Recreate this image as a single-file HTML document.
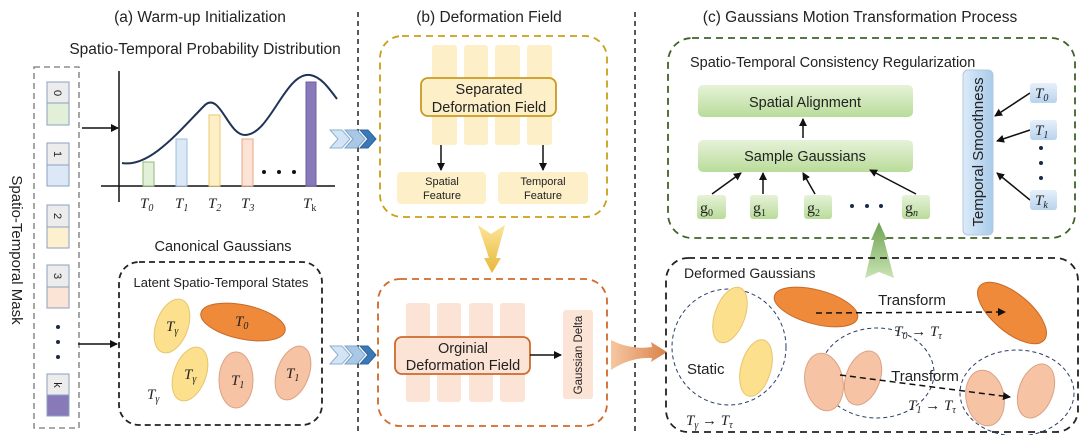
<!DOCTYPE html>
<html><head><meta charset="utf-8"><style>
html,body{margin:0;padding:0;background:#fff;}
svg{display:block;}
text{font-family:"Liberation Sans",sans-serif;fill:#222;}
.m{font-family:"Liberation Serif",serif;font-style:italic;}
</style></head><body>
<svg width="1080" height="435" viewBox="0 0 1080 435" xmlns="http://www.w3.org/2000/svg">
<defs>
<marker id="ah" markerWidth="8" markerHeight="8" refX="7" refY="4" orient="auto" markerUnits="userSpaceOnUse"><path d="M0,0 L8,4 L0,8 z" fill="#111"/></marker>
<linearGradient id="gg" x1="0" y1="0" x2="0" y2="1"><stop offset="0" stop-color="#e6f2d8"/><stop offset="1" stop-color="#b9dc9a"/></linearGradient>
<linearGradient id="bg" x1="0" y1="0" x2="1" y2="0"><stop offset="0" stop-color="#dcebf8"/><stop offset="1" stop-color="#a9cbea"/></linearGradient>
<linearGradient id="tb" x1="0" y1="0" x2="0" y2="1"><stop offset="0" stop-color="#e6f0fa"/><stop offset="1" stop-color="#b8d3ee"/></linearGradient>
<linearGradient id="ya" x1="0" y1="0" x2="0" y2="1"><stop offset="0" stop-color="#fbe49a"/><stop offset="1" stop-color="#e8b838"/></linearGradient>
<linearGradient id="ga" x1="0" y1="0" x2="0" y2="1"><stop offset="0" stop-color="#6ea150"/><stop offset="1" stop-color="#c9e4b4"/></linearGradient>
<linearGradient id="oa" x1="0" y1="0" x2="1" y2="0"><stop offset="0" stop-color="#f6c7a2"/><stop offset="1" stop-color="#d9834a"/></linearGradient>
</defs>

<line x1="358" y1="12" x2="358" y2="432" stroke="#222" stroke-width="1.5" stroke-dasharray="5,4"/>
<line x1="635" y1="12" x2="635" y2="432" stroke="#222" stroke-width="1.5" stroke-dasharray="5,4"/>

<!-- (a) -->
<text x="200" y="22" font-size="15.5" text-anchor="middle">(a) Warm-up Initialization</text>
<text x="205" y="54" font-size="15.5" text-anchor="middle">Spatio-Temporal  Probability Distribution</text>
<rect x="34" y="67" width="45" height="361" fill="none" stroke="#777" stroke-width="1.3" stroke-dasharray="6,4"/>
<text transform="translate(12,250) rotate(90)" font-size="15" text-anchor="middle">Spatio-Temporal Mask</text>
<g stroke="#8aa0c0" stroke-width="1">
<rect x="47" y="82" width="22" height="21" fill="#ececec"/><rect x="47" y="103" width="22" height="22" fill="#e2efd9"/>
<rect x="47" y="143" width="22" height="22" fill="#ececec"/><rect x="47" y="165" width="22" height="21" fill="#dce8f6"/>
<rect x="47" y="205" width="22" height="22" fill="#ececec"/><rect x="47" y="227" width="22" height="21" fill="#fdf0cf"/>
<rect x="47" y="265" width="22" height="22" fill="#ececec"/><rect x="47" y="287" width="22" height="21" fill="#fbe3d6"/>
<rect x="47" y="374" width="22" height="21" fill="#ececec"/><rect x="47" y="395" width="22" height="21" fill="#8879b8"/>
</g>
<g font-size="11" text-anchor="middle">
<text transform="translate(54,93) rotate(90)">0</text>
<text transform="translate(54,154) rotate(90)">1</text>
<text transform="translate(54,216) rotate(90)">2</text>
<text transform="translate(54,276) rotate(90)">3</text>
<text transform="translate(54,385) rotate(90)">k</text>
</g>
<circle cx="58" cy="327" r="2" fill="#1a2a4a"/><circle cx="58" cy="342" r="2" fill="#1a2a4a"/><circle cx="58" cy="357" r="2" fill="#1a2a4a"/>
<line x1="82" y1="128" x2="118" y2="128" stroke="#111" stroke-width="1.5" marker-end="url(#ah)"/>
<line x1="119" y1="71" x2="119" y2="202" stroke="#111" stroke-width="1.5"/>
<line x1="101" y1="186" x2="335" y2="186" stroke="#111" stroke-width="1.5"/>
<rect x="143" y="162" width="11" height="24" fill="#e2efd9" stroke="#8dbb72"/>
<rect x="176" y="139" width="11" height="47" fill="#dce8f6" stroke="#9cbfe0"/>
<rect x="209" y="115" width="11" height="71" fill="#fdf0c6" stroke="#ecc870"/>
<rect x="242" y="139" width="11" height="47" fill="#fbe3d6" stroke="#eba584"/>
<rect x="306" y="82" width="10" height="104" fill="#8879b8" stroke="#6e5fa5"/>
<circle cx="264" cy="172" r="2" fill="#111"/><circle cx="279" cy="172" r="2" fill="#111"/><circle cx="294" cy="172" r="2" fill="#111"/>
<path d="M122,163 C150,168 180,130 205,105 C220,92 228,135 245,135 C270,135 285,72 310,75 C322,77 330,90 337,99" fill="none" stroke="#1f3355" stroke-width="2"/>
<g font-size="15">
<text x="140" y="208" class="m">T<tspan font-size="10" dy="3">0</tspan></text>
<text x="175" y="208" class="m">T<tspan font-size="10" dy="3">1</tspan></text>
<text x="208" y="208" class="m">T<tspan font-size="10" dy="3">2</tspan></text>
<text x="241" y="208" class="m">T<tspan font-size="10" dy="3">3</tspan></text>
<text x="303" y="208" class="m">T<tspan font-size="10" dy="3" font-style="normal">k</tspan></text>
</g>

<text x="223" y="251" font-size="14.5" text-anchor="middle">Canonical Gaussians</text>
<rect x="119" y="262" width="203" height="163" rx="20" fill="none" stroke="#222" stroke-width="1.8" stroke-dasharray="6,4"/>
<text x="221" y="287" font-size="13" text-anchor="middle">Latent Spatio-Temporal States</text>
<line x1="78" y1="344" x2="117" y2="344" stroke="#111" stroke-width="1.5" marker-end="url(#ah)"/>
<ellipse cx="172" cy="326" rx="16" ry="28" transform="rotate(20 172 326)" fill="#fde08e" stroke="#e6c46a"/>
<ellipse cx="243" cy="322" rx="43" ry="17" transform="rotate(12 243 322)" fill="#ef8a3a" stroke="#c8692a"/>
<ellipse cx="190" cy="374" rx="16" ry="28" transform="rotate(20 190 374)" fill="#fde08e" stroke="#e6c46a"/>
<ellipse cx="236" cy="380" rx="17" ry="28" fill="#f6c3a4" stroke="#dba283"/>
<ellipse cx="293" cy="373" rx="16" ry="28" transform="rotate(20 293 373)" fill="#f6c3a4" stroke="#dba283"/>
<g font-size="15">
<text x="166" y="331" class="m">T<tspan font-size="10" dy="3">γ</tspan></text>
<text x="235" y="326" class="m">T<tspan font-size="10" dy="3">0</tspan></text>
<text x="184" y="379" class="m">T<tspan font-size="10" dy="3">γ</tspan></text>
<text x="231" y="385" class="m">T<tspan font-size="10" dy="3">1</tspan></text>
<text x="286" y="378" class="m">T<tspan font-size="10" dy="3">1</tspan></text>
<text x="147" y="399" class="m">T<tspan font-size="10" dy="3">γ</tspan></text>
</g>

<g>
<path d="M330,130 L342,130 L350,139 L342,148 L330,148 L338,139z" fill="#d3e4f5" stroke="#8fb0d2"/>
<path d="M345,130 L357,130 L365,139 L357,148 L345,148 L353,139z" fill="#a9c8e6" stroke="#7ea4ca"/>
<path d="M360,130 L368,130 L376,139 L368,148 L360,148 L368,139z" fill="#3a78b6" stroke="#2d64a0"/>
<path d="M330,346 L342,346 L350,355 L342,364 L330,364 L338,355z" fill="#d3e4f5" stroke="#8fb0d2"/>
<path d="M345,346 L357,346 L365,355 L357,364 L345,364 L353,355z" fill="#a9c8e6" stroke="#7ea4ca"/>
<path d="M360,346 L368,346 L376,355 L368,364 L360,364 L368,355z" fill="#3a78b6" stroke="#2d64a0"/>
</g>

<!-- (b) -->
<text x="489" y="22" font-size="15.5" text-anchor="middle">(b) Deformation Field</text>
<rect x="380" y="36" width="227" height="181" rx="22" fill="none" stroke="#c9a017" stroke-width="1.8" stroke-dasharray="7,5"/>
<g fill="#fdefc8">
<rect x="432" y="45" width="25" height="100" rx="3"/><rect x="464" y="45" width="24" height="100" rx="3"/>
<rect x="495" y="45" width="25" height="100" rx="3"/><rect x="527" y="45" width="25" height="100" rx="3"/>
</g>
<rect x="421" y="78" width="135" height="38" rx="7" fill="#fdefc8" stroke="#c99a20" stroke-width="1.8"/>
<text x="489" y="94" font-size="14.5" text-anchor="middle">Separated</text>
<text x="489" y="112" font-size="14.5" text-anchor="middle">Deformation Field</text>
<line x1="441" y1="145" x2="441" y2="170" stroke="#111" stroke-width="1.5" marker-end="url(#ah)"/>
<line x1="543" y1="145" x2="543" y2="170" stroke="#111" stroke-width="1.5" marker-end="url(#ah)"/>
<rect x="397" y="172" width="89" height="32" rx="4" fill="#fdefc8"/>
<rect x="498" y="172" width="90" height="32" rx="4" fill="#fdefc8"/>
<text x="442" y="185" font-size="11" text-anchor="middle">Spatial</text>
<text x="442" y="199" font-size="11" text-anchor="middle">Feature</text>
<text x="543" y="185" font-size="11" text-anchor="middle">Temporal</text>
<text x="543" y="199" font-size="11" text-anchor="middle">Feature</text>
<path d="M478,225 L491,234 L505,225 L496,258 L501,258 L492,273 L484,258 L489,258z" fill="url(#ya)"/>

<rect x="378" y="279" width="229" height="147" rx="22" fill="none" stroke="#d0692a" stroke-width="1.8" stroke-dasharray="7,5"/>
<g fill="#fbe3d6">
<rect x="406" y="303" width="24" height="99" rx="3"/><rect x="437" y="303" width="24" height="99" rx="3"/>
<rect x="469" y="303" width="24" height="99" rx="3"/><rect x="500" y="303" width="25" height="99" rx="3"/>
</g>
<rect x="395" y="337" width="135" height="37" rx="7" fill="#fbe3d6" stroke="#cf6a2c" stroke-width="1.8"/>
<text x="463" y="353" font-size="14.5" text-anchor="middle">Orginial</text>
<text x="463" y="370" font-size="14.5" text-anchor="middle">Deformation Field</text>
<line x1="530" y1="355" x2="561" y2="355" stroke="#111" stroke-width="1.5" marker-end="url(#ah)"/>
<rect x="563" y="310" width="30" height="89" rx="3" fill="#fbe3d6"/>
<text transform="translate(582,355) rotate(-90)" font-size="11.5" text-anchor="middle">Gaussian Delta</text>
<path d="M611,340 Q630,350 652,347 L651,342 L667,352 L651,362 L652,358 Q630,357 611,370 Q622,355 611,370z" fill="url(#oa)"/>

<!-- (c) -->
<text x="860" y="22" font-size="15.5" text-anchor="middle">(c) Gaussians Motion Transformation Process</text>
<rect x="668" y="38" width="407" height="200" rx="24" fill="none" stroke="#3f6328" stroke-width="1.8" stroke-dasharray="7,5"/>
<text x="690" y="67" font-size="14.5">Spatio-Temporal Consistency Regularization</text>
<rect x="698" y="85" width="215" height="32" rx="5" fill="url(#gg)"/>
<text x="805" y="107" font-size="14.5" text-anchor="middle">Spatial Alignment</text>
<rect x="698" y="140" width="215" height="32" rx="5" fill="url(#gg)"/>
<text x="805" y="161" font-size="14.5" text-anchor="middle">Sample Gaussians</text>
<line x1="803" y1="138" x2="803" y2="119" stroke="#111" stroke-width="1.5" marker-end="url(#ah)"/>
<g fill="url(#gg)">
<rect x="697" y="195" width="29" height="24" rx="3"/><rect x="750" y="195" width="28" height="24" rx="3"/>
<rect x="804" y="195" width="28" height="24" rx="3"/><rect x="902" y="195" width="28" height="24" rx="3"/>
</g>
<g font-size="16">
<text x="700" y="213" style="font-family:'Liberation Serif',serif">g<tspan font-size="10" dy="3">0</tspan></text>
<text x="753" y="213" style="font-family:'Liberation Serif',serif">g<tspan font-size="10" dy="3">1</tspan></text>
<text x="807" y="213" style="font-family:'Liberation Serif',serif">g<tspan font-size="10" dy="3">2</tspan></text>
<text x="905" y="213" style="font-family:'Liberation Serif',serif">g<tspan font-size="10" dy="3" font-style="italic">n</tspan></text>
</g>
<circle cx="852" cy="206" r="2" fill="#1a2a4a"/><circle cx="867" cy="206" r="2" fill="#1a2a4a"/><circle cx="881" cy="206" r="2" fill="#1a2a4a"/>
<g stroke="#111" stroke-width="1.5" marker-end="url(#ah)">
<line x1="712" y1="194" x2="741" y2="173"/>
<line x1="763" y1="194" x2="763" y2="173"/>
<line x1="815" y1="194" x2="803" y2="173"/>
<line x1="916" y1="194" x2="870" y2="170"/>
<line x1="1030" y1="93" x2="995" y2="116"/>
<line x1="1030" y1="130" x2="997" y2="141"/>
<line x1="1030" y1="200" x2="997" y2="173"/>
</g>
<rect x="963" y="70" width="30" height="165" rx="5" fill="url(#bg)" stroke="#b0c8e0"/>
<text transform="translate(983,152) rotate(-90)" font-size="15" text-anchor="middle">Temporal Smoothness</text>
<g fill="url(#tb)">
<rect x="1030" y="83" width="27" height="20" rx="3"/><rect x="1030" y="120" width="27" height="20" rx="3"/><rect x="1030" y="190" width="27" height="20" rx="3"/>
</g>
<text x="1035" y="98" font-size="15" class="m">T<tspan font-size="10" dy="3">0</tspan></text>
<text x="1035" y="135" font-size="15" class="m">T<tspan font-size="10" dy="3">1</tspan></text>
<text x="1035" y="205" font-size="15" class="m">T<tspan font-size="10" dy="3">k</tspan></text>
<circle cx="1041" cy="148" r="2" fill="#1a2a4a"/><circle cx="1041" cy="163" r="2" fill="#1a2a4a"/><circle cx="1041" cy="178" r="2" fill="#1a2a4a"/>
<path d="M879,222 L887,240 L884,240 L894,278 L879,272 L865,278 L874,240 L871,240z" fill="url(#ga)"/>

<rect x="666" y="258" width="412" height="174" rx="22" fill="none" stroke="#222" stroke-width="1.8" stroke-dasharray="7,5"/>
<text x="684" y="278" font-size="14">Deformed Gaussians</text>
<ellipse cx="729" cy="347" rx="57" ry="58" fill="none" stroke="#2a3e66" stroke-dasharray="4,3"/>
<ellipse cx="877" cy="373" rx="57" ry="45" fill="none" stroke="#2a3e66" stroke-dasharray="4,3"/>
<ellipse cx="1017" cy="393" rx="57" ry="43" fill="none" stroke="#2a3e66" stroke-dasharray="4,3"/>
<ellipse cx="730" cy="315" rx="15" ry="29" transform="rotate(20 730 315)" fill="#fde08e" stroke="#e6c46a"/>
<ellipse cx="756" cy="368" rx="15" ry="29" transform="rotate(15 756 368)" fill="#fde08e" stroke="#e6c46a"/>
<ellipse cx="816" cy="307" rx="43" ry="17" transform="rotate(15 816 307)" fill="#ef8a3a" stroke="#c8692a"/>
<ellipse cx="1012" cy="313" rx="42" ry="19" transform="rotate(40 1012 313)" fill="#ef8a3a" stroke="#c8692a"/>
<ellipse cx="824" cy="382" rx="19" ry="29" transform="rotate(-10 824 382)" fill="#f6c3a4" stroke="#dba283"/>
<ellipse cx="863" cy="378" rx="17" ry="28" transform="rotate(20 863 378)" fill="#f6c3a4" stroke="#dba283"/>
<ellipse cx="985" cy="398" rx="19" ry="28" transform="rotate(-10 985 398)" fill="#f6c3a4" stroke="#dba283"/>
<ellipse cx="1036" cy="391" rx="17" ry="28" transform="rotate(20 1036 391)" fill="#f6c3a4" stroke="#dba283"/>
<g stroke="#111" stroke-width="1.5" stroke-dasharray="6,4" marker-end="url(#ah)">
<line x1="816" y1="313" x2="1005" y2="312"/>
<line x1="840" y1="375" x2="1010" y2="397"/>
</g>
<text x="912" y="305" font-size="15" text-anchor="middle">Transform</text>
<text x="918" y="336" font-size="15" class="m" text-anchor="middle">T<tspan font-size="10" dy="3">0</tspan><tspan dy="-3"> → T</tspan><tspan font-size="10" dy="3">τ</tspan></text>
<text x="925" y="381" font-size="15" text-anchor="middle">Transform</text>
<text x="932" y="410" font-size="15" class="m" text-anchor="middle">T<tspan font-size="10" dy="3">1</tspan><tspan dy="-3"> → T</tspan><tspan font-size="10" dy="3">τ</tspan></text>
<text x="687" y="374" font-size="15">Static</text>
<text x="686" y="425" font-size="15" class="m">T<tspan font-size="10" dy="3">γ</tspan><tspan dy="-3"> → T</tspan><tspan font-size="10" dy="3">τ</tspan></text>
</svg>
</body></html>
